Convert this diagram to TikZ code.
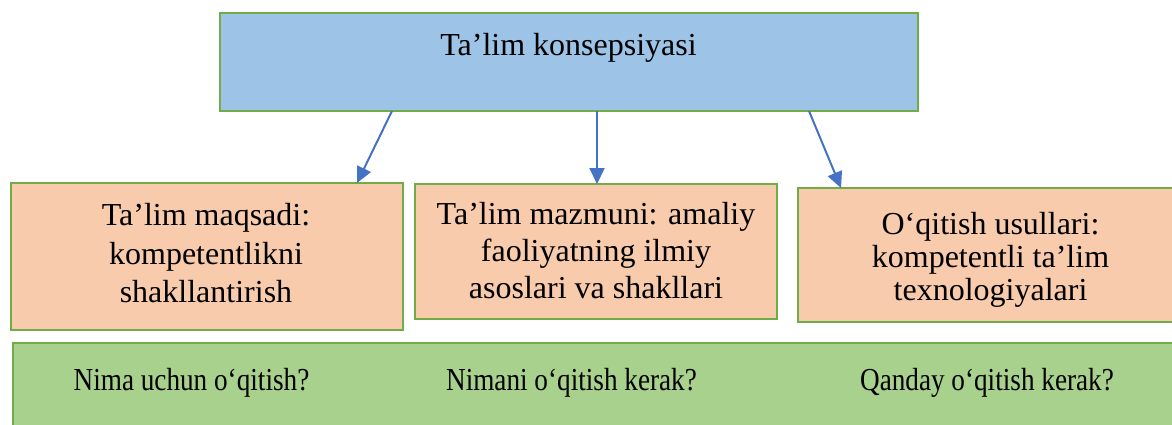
\documentclass[tikz,border=0pt]{standalone}
\usepackage{fontspec}
\setmainfont{Liberation Serif}
\newfontfamily\narrowserif[FakeStretch=0.85]{Liberation Serif}
\usetikzlibrary{arrows.meta}
\definecolor{topblue}{HTML}{9DC3E6}
\definecolor{edgegreen}{HTML}{70AD47}
\definecolor{peach}{HTML}{F8CBAD}
\definecolor{lightgreen}{HTML}{A9D18E}
\definecolor{arrowblue}{HTML}{4472C4}
\tikzset{
  boxbase/.style={draw=edgegreen, line width=2pt, inner sep=0pt, outer sep=0pt, rectangle},
  topbox/.style={boxbase, fill=topblue},
  midbox/.style={boxbase, fill=peach},
  footbox/.style={boxbase, fill=lightgreen},
  lbl/.style={inner sep=0pt, outer sep=0pt, align=center, font=\fontsize{32}{38}\selectfont},
  qlbl/.style={inner sep=0pt, outer sep=0pt, anchor=base, font=\narrowserif\fontsize{32}{38}\selectfont},
  arr/.style={draw=arrowblue, line width=2pt, -{Triangle[length=16pt,width=15pt]}}
}
\begin{document}
\begin{tikzpicture}[x=1pt,y=-1pt]
\useasboundingbox (0,0) rectangle (1172,424);
\begin{scope}
\clip (0,0) rectangle (1172,424);
% boxes
\node[topbox, minimum width=698pt, minimum height=98pt] (top) at (569,62) {};
\node[midbox, minimum width=392pt, minimum height=147pt] (b1) at (207,256.5) {};
\node[midbox, minimum width=362pt, minimum height=135pt] (b2) at (596,251.5) {};
\node[midbox, minimum width=387pt, minimum height=134pt] (b3) at (991.5,255) {};
\node[footbox, minimum width=1172pt, minimum height=97pt] (foot) at (599,391.5) {};
% texts
\node[lbl, anchor=base] (ttop) at (568.5,55) {Ta’lim konsepsiyasi};
\node[lbl, font=\fontsize{32}{38.5}\selectfont] (t1) at (206,253.5) {Ta’lim maqsadi:\\kompetentlikni\\shakllantirish};
\node[lbl, font=\fontsize{32}{37}\selectfont] (t2) at (596,250.5) {Ta’lim mazmuni: amaliy\\faoliyatning ilmiy\\asoslari va shakllari};
\node[lbl, font=\fontsize{32}{33}\selectfont] (t3) at (990.5,260) {O‘qitish usullari:\\kompetentli ta’lim\\texnologiyalari};
\node[qlbl] (q1) at (191.5,390) {Nima uchun o‘qitish?};
\node[qlbl] (q2) at (571.5,390) {Nimani o‘qitish kerak?};
\node[qlbl] (q3) at (987,390) {Qanday o‘qitish kerak?};
% arrows
\draw[arr] ([xshift=-177pt]top.south) -- ([xshift=150pt]b1.north);
\draw[arr] ([xshift=28pt]top.south) -- ([xshift=1pt]b2.north);
\draw[arr] ([xshift=240pt]top.south) -- ([xshift=-150.5pt]b3.north);
\end{scope}
\end{tikzpicture}
\end{document}
